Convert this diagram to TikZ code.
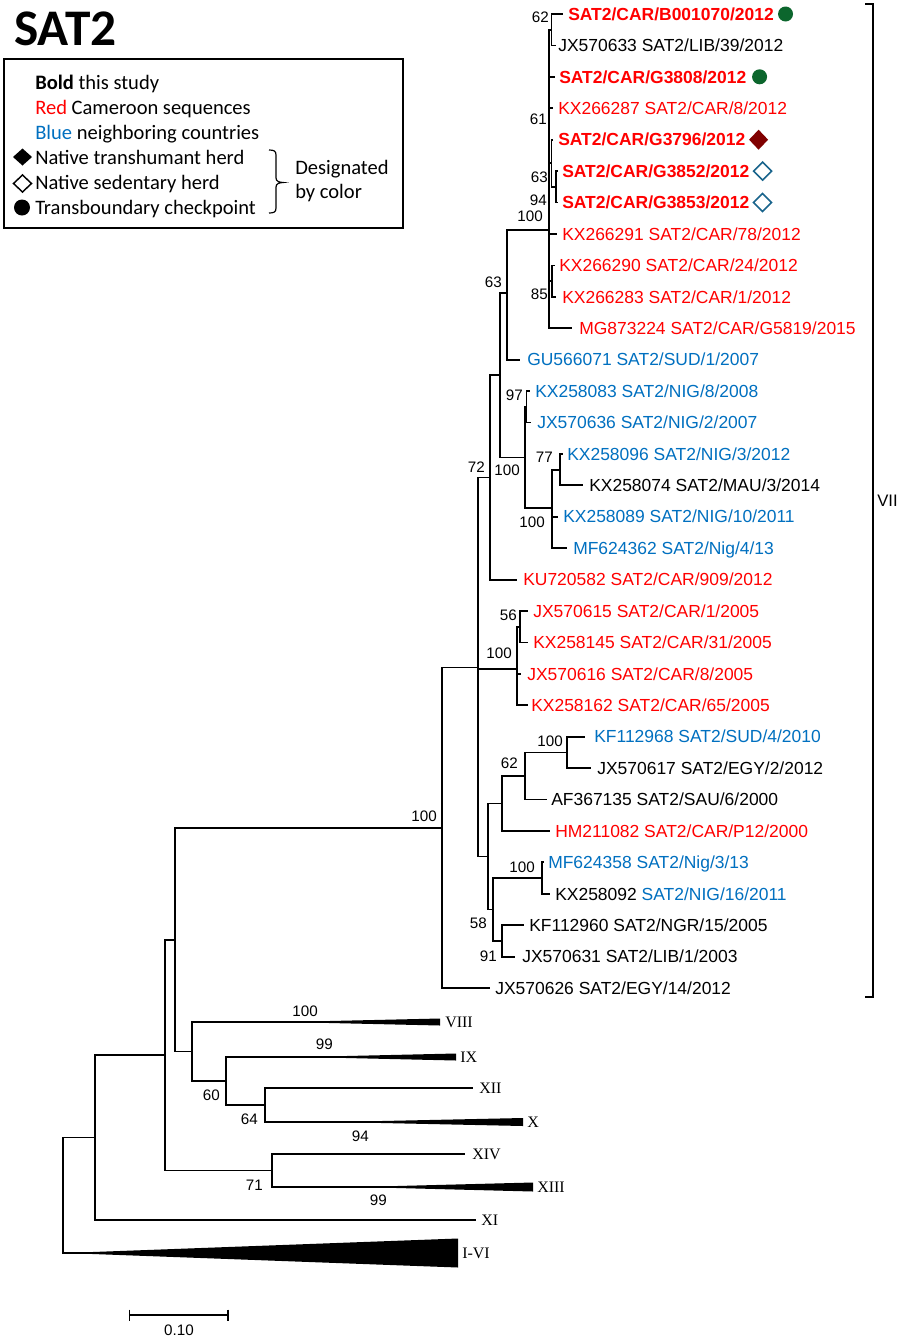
\documentclass[tikz,border=0pt]{standalone}
\usepackage{fontspec}
\setmainfont{Liberation Sans}
\newfontfamily\CalibFam{Carlito}
\newfontfamily\TmsFam{Liberation Serif}
\usetikzlibrary{calc}
\definecolor{cred}{RGB}{255,0,0}
\definecolor{cblue}{RGB}{0,112,192}
\definecolor{cgreen}{RGB}{12,102,45}
\definecolor{cdred}{RGB}{128,0,0}
\definecolor{cteal}{RGB}{25,100,140}
\newcommand{\TipFont}{\fontsize{13.1pt}{15pt}\selectfont}
\newcommand{\BsFont}{\fontsize{11.4pt}{13pt}\selectfont}
\newcommand{\RomFont}{\TmsFam\fontsize{12pt}{14pt}\selectfont}
\newcommand{\LegFont}{\CalibFam\fontsize{15.4pt}{18pt}\selectfont}
\begin{document}
\begin{tikzpicture}[x=0.75pt,y=-0.75pt,
  br/.style={line width=1.35pt},
  tl/.style={anchor=west,inner sep=0pt,text height=9.4pt,text depth=0pt,font=\TipFont},
  tlb/.style={tl,font=\TipFont\bfseries,text=cred},
  tlr/.style={tl,text=cred},
  tlu/.style={tl,text=cblue},
  bs/.style={anchor=east,inner sep=0pt,text height=8.2pt,text depth=0pt,font=\BsFont},
  rom/.style={anchor=west,inner sep=0pt,text height=7.9pt,text depth=0pt,font=\RomFont},
  leg/.style={anchor=base west,inner sep=0pt,font=\LegFont}]
\useasboundingbox (0,0) rectangle (901,1339);
\fill[white] (0,0) rectangle (901,1339);

% ---------- title and legend ----------
\node[anchor=base west,inner sep=0pt,font=\CalibFam\bfseries\fontsize{38.5pt}{42pt}\selectfont] (title) at (14,45) {SAT2};
\draw[line width=1.2pt] (4,59) rectangle (403,228);
\node[leg] (lg1) at (35,89.5) {\textbf{Bold} this study};
\node[leg] (lg2) at (35,114.5) {\textcolor{cred}{Red} Cameroon sequences};
\node[leg] (lg3) at (35,139) {\textcolor{cblue}{Blue} neighboring countries};
\node[leg] (lg4) at (35,164) {Native transhumant herd};
\node[leg] (lg5) at (35,189) {Native sedentary herd};
\node[leg] (lg6) at (35,214) {Transboundary checkpoint};
\node[leg] (lg7) at (295,174.3) {Designated};
\node[leg] (lg8) at (295,198.5) {by color};
\fill (13,157) -- (22.5,148.5) -- (32,157) -- (22.5,165.5) -- cycle;
\draw[line width=1.1pt] (13.5,183.5) -- (22.5,175) -- (31.5,183.5) -- (22.5,192) -- cycle;
\fill (22,207.5) circle[radius=8];
\draw[line width=0.9pt] (269,150) .. controls (274,150) and (276,151) .. (276,155) -- (276,178)
  .. controls (276,181) and (279,182.5) .. (283,182.5)
  .. controls (279,182.5) and (276,184) .. (276,187) -- (276,208)
  .. controls (276,212) and (274,213) .. (269,213);

% ---------- tips ----------
\coordinate (t0) at (563,14);
\coordinate (t1) at (556,45.4);
\coordinate (t2) at (555,76.8);
\coordinate (t3) at (553,108.3);
\coordinate (t4) at (553,139.7);
\coordinate (t5) at (558,171.1);
\coordinate (t6) at (558,202.5);
\coordinate (t7) at (557,234);
\coordinate (t8) at (555,265.4);
\coordinate (t9) at (556,296.8);
\coordinate (t10) at (572,328.2);
\coordinate (t11) at (520,359.6);
\coordinate (t12) at (530,391);
\coordinate (t13) at (531,422.5);
\coordinate (t14) at (563,453.9);
\coordinate (t15) at (583,485.3);
\coordinate (t16) at (558,516.7);
\coordinate (t17) at (567,548.1);
\coordinate (t18) at (517,579.6);
\coordinate (t19) at (528,611);
\coordinate (t20) at (528,642.4);
\coordinate (t21) at (521,673.8);
\coordinate (t22) at (528,705.2);
\coordinate (t23) at (585,736.7);
\coordinate (t24) at (591,768.1);
\coordinate (t25) at (547,799.5);
\coordinate (t26) at (550,830.9);
\coordinate (t27) at (544,862.3);
\coordinate (t28) at (550,893.8);
\coordinate (t29) at (524,925.2);
\coordinate (t30) at (515,956.6);
\coordinate (t31) at (490,988);
\coordinate (cVIII) at (325,1022);
\coordinate (cIX) at (342,1057);
\coordinate (cXII) at (473,1088);
\coordinate (cX) at (377,1122);
\coordinate (cXIV) at (465,1154);
\coordinate (cXIII) at (393,1187);
\coordinate (cXI) at (476,1220);
\coordinate (cIVI) at (90,1253);

% ---------- internal nodes ----------
\coordinate (n62a) at (551.5,29.7);
\coordinate (n63a) at (556,186.8);
\coordinate (nB) at (551.5,163);
\coordinate (n85) at (552,281);
\coordinate (n100a) at (549,230);
\coordinate (n63b) at (507,293);
\coordinate (n97) at (526.5,406.7);
\coordinate (n77) at (560,469.6);
\coordinate (n100c) at (552,508);
\coordinate (n100b) at (525,457.4);
\coordinate (nX) at (500,375.2);
\coordinate (n72) at (490,477.4);
\coordinate (n56) at (520,626.7);
\coordinate (n100d) at (517,668.6);
\coordinate (n100e) at (567,752.4);
\coordinate (n62b) at (525,776);
\coordinate (nH) at (502,803.4);
\coordinate (n100f) at (542,878);
\coordinate (n91) at (502,940.9);
\coordinate (n58) at (493,909.5);
\coordinate (nC) at (488,856.4);
\coordinate (nB7) at (478,667.5);
\coordinate (R7) at (442,827.7);
\coordinate (n64) at (265,1105);
\coordinate (n60) at (226,1081);
\coordinate (nE) at (192,1051.5);
\coordinate (nD) at (175,939.6);
\coordinate (n71) at (272,1170.5);
\coordinate (nF) at (165,1055);
\coordinate (nG) at (95,1137.5);
\coordinate (root) at (63,1195);

% ---------- branches ----------
\foreach \p/\c in {n62a/t0,n62a/t1,n63a/t5,n63a/t6,nB/t4,nB/n63a,n85/t8,n85/t9,
  n100a/n62a,n100a/t2,n100a/t3,n100a/nB,n100a/t7,n100a/n85,n100a/t10,
  n63b/n100a,n63b/t11,n97/t12,n97/t13,n77/t14,n77/t15,n100c/n77,n100c/t16,n100c/t17,
  n100b/n97,n100b/n100c,nX/n63b,nX/n100b,n72/nX,n72/t18,
  n56/t19,n56/t20,n100d/n56,n100d/t21,n100d/t22,
  n100e/t23,n100e/t24,n62b/n100e,n62b/t25,nH/n62b,nH/t26,
  n100f/t27,n100f/t28,n91/t29,n91/t30,n58/n100f,n58/n91,nC/nH,nC/n58,
  nB7/n72,nB7/n100d,nB7/nC,R7/nB7,R7/t31,
  n64/cXII,n64/cX,n60/cIX,n60/n64,nE/cVIII,nE/n60,nD/R7,nD/nE,
  n71/cXIV,n71/cXIII,nF/nD,nF/n71,nG/nF,nG/cXI,root/nG,root/cIVI}
  \draw[br] (\p) |- (\c);

% collapsed clades
\fill ($(cVIII)+(0,-0.9)$) -- (440,1018.5) -- (440,1025.5) -- ($(cVIII)+(0,0.9)$) -- cycle;
\fill ($(cIX)+(0,-0.9)$) -- (456,1053.5) -- (456,1060.5) -- ($(cIX)+(0,0.9)$) -- cycle;
\fill ($(cX)+(0,-0.9)$) -- (523,1118) -- (523,1126) -- ($(cX)+(0,0.9)$) -- cycle;
\fill ($(cXIII)+(0,-0.9)$) -- (533,1182.5) -- (533,1191.5) -- ($(cXIII)+(0,0.9)$) -- cycle;
\fill ($(cIVI)+(0,-0.9)$) -- (458,1238.5) -- (458,1267.5) -- ($(cIVI)+(0,0.9)$) -- cycle;

% ---------- tip labels ----------
\node[tlb] (L0) at (568,14) {SAT2/CAR/B001070/2012};
\node[tl] (L1) at (558,45.4) {JX570633 SAT2/LIB/39/2012};
\node[tlb] (L2) at (559,76.8) {SAT2/CAR/G3808/2012};
\node[tlr] (L3) at (558,108.3) {KX266287 SAT2/CAR/8/2012};
\node[tlb] (L4) at (558,139.7) {SAT2/CAR/G3796/2012};
\node[tlb] (L5) at (562,171.1) {SAT2/CAR/G3852/2012};
\node[tlb] (L6) at (562,202.5) {SAT2/CAR/G3853/2012};
\node[tlr] (L7) at (562,234) {KX266291 SAT2/CAR/78/2012};
\node[tlr] (L8) at (559,265.4) {KX266290 SAT2/CAR/24/2012};
\node[tlr] (L9) at (562,296.8) {KX266283 SAT2/CAR/1/2012};
\node[tlr] (L10) at (579,328.2) {MG873224 SAT2/CAR/G5819/2015};
\node[tlu] (L11) at (527,359.6) {GU566071 SAT2/SUD/1/2007};
\node[tlu] (L12) at (535,391) {KX258083 SAT2/NIG/8/2008};
\node[tlu] (L13) at (537,422.5) {JX570636 SAT2/NIG/2/2007};
\node[tlu] (L14) at (567,453.9) {KX258096 SAT2/NIG/3/2012};
\node[tl] (L15) at (589,485.3) {KX258074 SAT2/MAU/3/2014};
\node[tlu] (L16) at (563,516.7) {KX258089 SAT2/NIG/10/2011};
\node[tlu] (L17) at (573,548.1) {MF624362 SAT2/Nig/4/13};
\node[tlr] (L18) at (523,579.6) {KU720582 SAT2/CAR/909/2012};
\node[tlr] (L19) at (533,611) {JX570615 SAT2/CAR/1/2005};
\node[tlr] (L20) at (533,642.4) {KX258145 SAT2/CAR/31/2005};
\node[tlr] (L21) at (527,673.8) {JX570616 SAT2/CAR/8/2005};
\node[tlr] (L22) at (531,705.2) {KX258162 SAT2/CAR/65/2005};
\node[tlu] (L23) at (594,736.7) {KF112968 SAT2/SUD/4/2010};
\node[tl] (L24) at (597,768.1) {JX570617 SAT2/EGY/2/2012};
\node[tl] (L25) at (551,799.5) {AF367135 SAT2/SAU/6/2000};
\node[tlr] (L26) at (555,830.9) {HM211082 SAT2/CAR/P12/2000};
\node[tlu] (L27) at (548,862.3) {MF624358 SAT2/Nig/3/13};
\node[tl] (L28) at (555,893.8) {KX258092 \textcolor{cblue}{SAT2/NIG/16/2011}};
\node[tl] (L29) at (529,925.2) {KF112960 SAT2/NGR/15/2005};
\node[tl] (L30) at (522,956.6) {JX570631 SAT2/LIB/1/2003};
\node[tl] (L31) at (495,988) {JX570626 SAT2/EGY/14/2012};

% markers
\fill[cgreen] ($(L0.east)+(11.5,0)$) circle[radius=7.5];
\fill[cgreen] ($(L2.east)+(13,0)$) circle[radius=7.5];
\fill[cdred] ($(L4.east)+(3.5,0)$) -- ++(9.5,-10) -- ++(9.5,10) -- ++(-9.5,10) -- cycle;
\draw[cteal,line width=1.2pt] ($(L5.east)+(4,0)$) -- ++(9,-9) -- ++(9,9) -- ++(-9,9) -- cycle;
\draw[cteal,line width=1.2pt] ($(L6.east)+(4,0)$) -- ++(9,-9) -- ++(9,9) -- ++(-9,9) -- cycle;

% ---------- collapsed clade labels ----------
\node[rom] (rVIII) at (445,1022) {VIII};
\node[rom] (rIX) at (460,1057) {IX};
\node[rom] (rXII) at (479,1088) {XII};
\node[rom] (rX) at (527,1122) {X};
\node[rom] (rXIV) at (472,1154) {XIV};
\node[rom] (rXIII) at (537,1187) {XIII};
\node[rom] (rXI) at (481,1220) {XI};
\node[rom] (rIVI) at (462,1253) {I-VI};

% ---------- bootstrap values ----------
\node[bs] (b1) at (549,17) {62};
\node[bs] (b2) at (547,119) {61};
\node[bs] (b3) at (548,177) {63};
\node[bs] (b4) at (547,200) {94};
\node[bs] (b5) at (543,216) {100};
\node[bs] (b6) at (502,282) {63};
\node[bs] (b7) at (548,294) {85};
\node[bs] (b8) at (523,395) {97};
\node[bs] (b9) at (553,457.5) {77};
\node[bs] (b10) at (520,470) {100};
\node[bs] (b11) at (485,467) {72};
\node[bs] (b12) at (545,522.5) {100};
\node[bs] (b13) at (517,615) {56};
\node[bs] (b14) at (512,653) {100};
\node[bs] (b15) at (563,741) {100};
\node[bs] (b16) at (518,763) {62};
\node[bs] (b17) at (437,816) {100};
\node[bs] (b18) at (535,866.7) {100};
\node[bs] (b19) at (487,923) {58};
\node[bs] (b20) at (497,956) {91};
\node[bs] (b21) at (318,1011) {100};
\node[bs] (b22) at (333,1044) {99};
\node[bs] (b23) at (220,1095) {60};
\node[bs] (b24) at (258,1119) {64};
\node[bs] (b25) at (369,1136) {94};
\node[bs] (b26) at (263,1185) {71};
\node[bs] (b27) at (387,1200) {99};

% ---------- clade VII bracket ----------
\coordinate (vt) at (873,4);
\coordinate (vb) at (873,997);
\draw[br] ($(vt)+(-8,0)$) -- (vt) -- (vb) -- ($(vb)+(-8,0)$);
\node[anchor=west,inner sep=0pt,text height=9pt,text depth=0pt,font=\fontsize{12.5pt}{14pt}\selectfont] (lVII) at (877,500) {VII};

% ---------- scale bar ----------
\coordinate (sb1) at (129.4,1315);
\coordinate (sb2) at (228,1315);
\draw[br] (sb1) -- (sb2);
\draw[br] ($(sb1)+(0,-5.5)$) -- ($(sb1)+(0,5.5)$);
\draw[br] ($(sb2)+(0,-5.5)$) -- ($(sb2)+(0,5.5)$);
\node[inner sep=0pt,text height=8.2pt,text depth=0pt,font=\BsFont] (sbl) at (179,1330) {0.10};
\end{tikzpicture}
\end{document}
